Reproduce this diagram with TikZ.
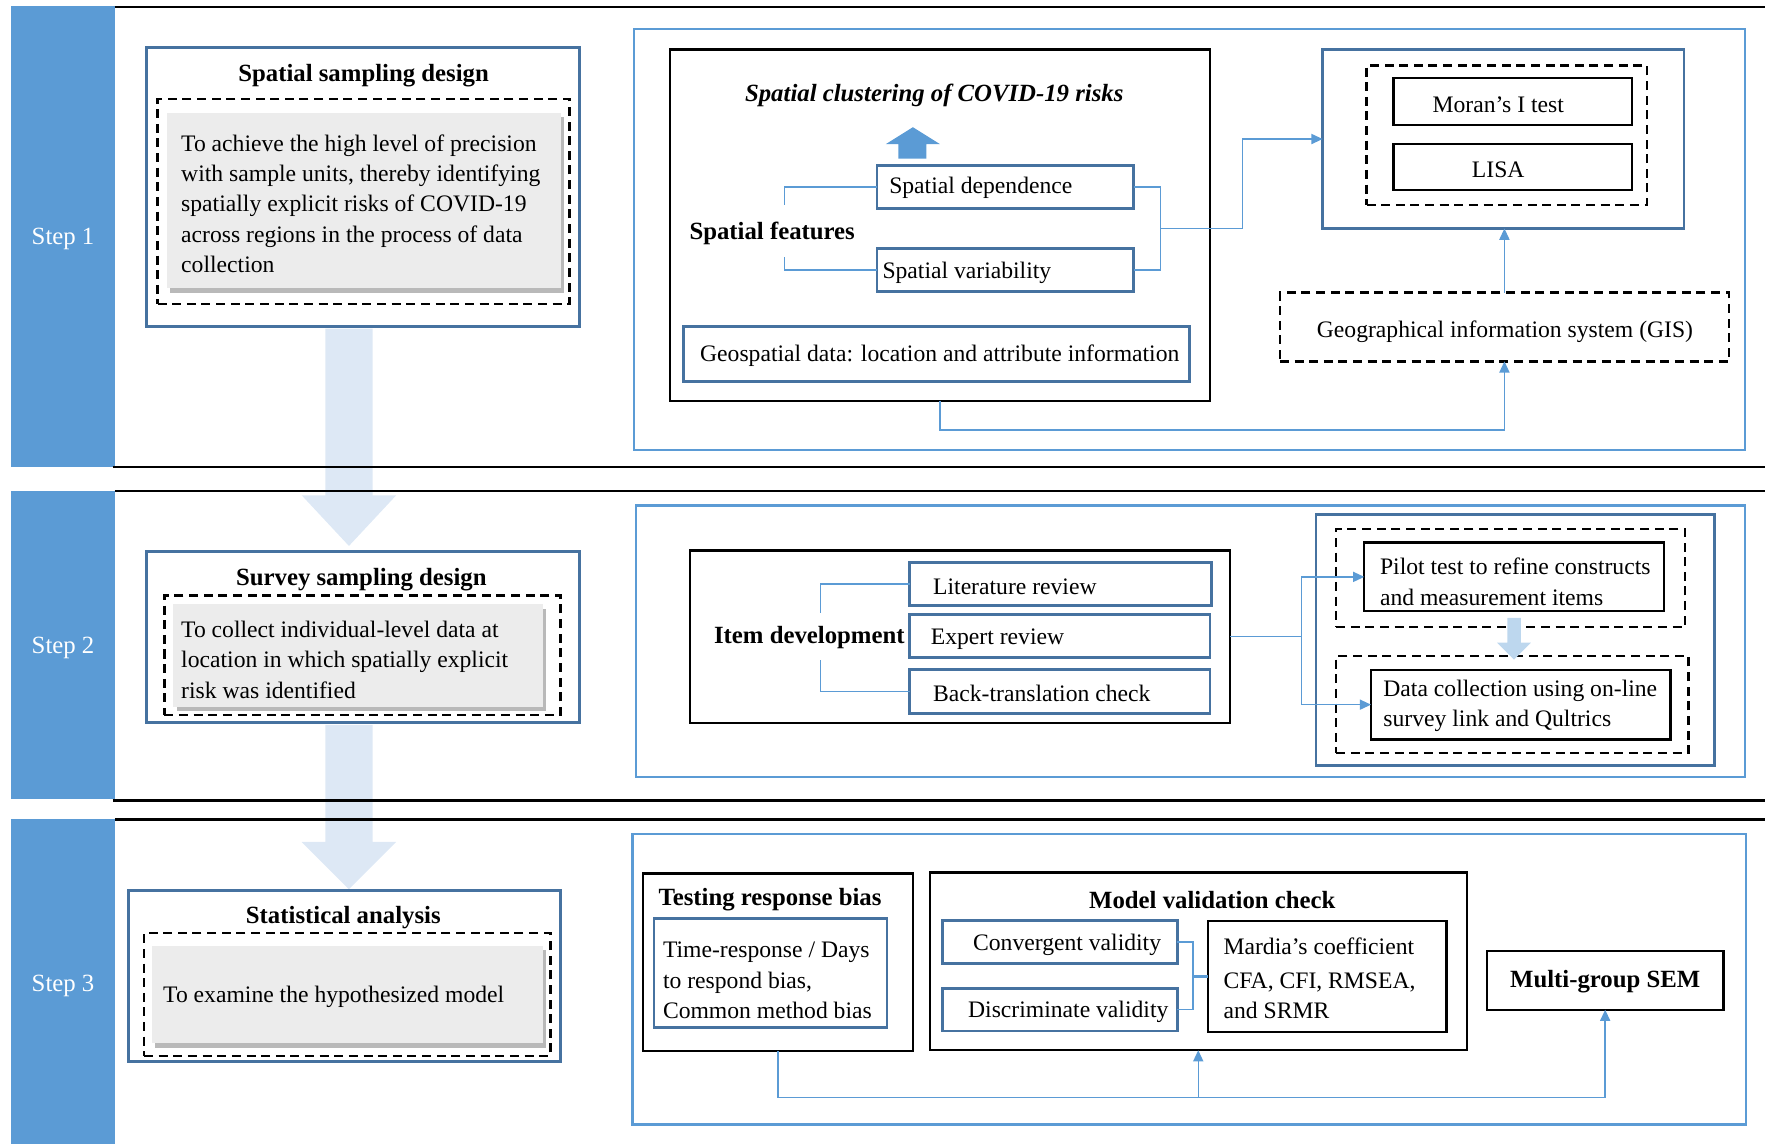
\documentclass[tikz,border=0pt]{standalone}
\usepackage{fontspec}
\setmainfont{Liberation Serif}
\usetikzlibrary{arrows.meta,shadows}
\definecolor{stepblue}{RGB}{91,155,213}
\definecolor{boxblue}{RGB}{70,114,160}
\definecolor{lineblue}{RGB}{91,155,213}
\definecolor{paleblue}{RGB}{221,232,245}
\definecolor{midblue}{RGB}{189,215,238}
\definecolor{grayfill}{RGB}{236,236,236}
\newcommand\mkbox[7]{\node[#1,minimum width={(#5-#3)*1pt},minimum height={(#6-#4)*1pt}] (#2) at ({(#3+#5)/2},{(#4+#6)/2}) {#7};}
\begin{document}
\begin{tikzpicture}[x=1pt,y=-1pt,
 base/.style={inner sep=0pt,outer sep=0pt},
 blk/.style={base,draw=black,line width=2pt},
 bbx/.style={base,draw=boxblue,line width=2.4pt},
 obx/.style={base,draw=lineblue,line width=2pt},
 dsh/.style={base,draw=black,line width=2.2pt,dash pattern=on 8pt off 5pt},
 gbx/.style={base,fill=grayfill,drop shadow={shadow xshift=3pt,shadow yshift=-4pt,opacity=.5,fill=black!55}},
 stepbar/.style={base,fill=stepblue},
 steptxt/.style={base,text=white,font=\fontsize{22}{27}\selectfont},
 txt/.style={base,font=\fontsize{21}{27}\selectfont,align=left,yshift=-2pt},
 ttl/.style={base,font=\fontsize{22}{27}\selectfont\bfseries,yshift=-2pt},
 conn/.style={draw=lineblue,line width=1.3pt},
 arr/.style={conn,-{Triangle[length=10pt,width=9pt]}},
 sepline/.style={line width=2.2pt}]
\useasboundingbox (0,0) rectangle (1568,1016);
% broad step arrows
\fill[paleblue] (289,292) -- (331,292) -- (331,440) -- (352,440) -- (310,485) -- (268,440) -- (289,440) -- cycle;
\fill[paleblue] (289,644) -- (331,644) -- (331,748) -- (352,748) -- (310,790) -- (268,748) -- (289,748) -- cycle;
% step bars
\mkbox{stepbar}{s1}{10}{5}{102}{415}{}
\mkbox{stepbar}{s2}{10}{436}{102}{710}{}
\mkbox{stepbar}{s3}{10}{728}{102}{1016}{}
\node[steptxt] (s1t) at (56,212) {Step 1};
\node[steptxt] (s2t) at (56,576) {Step 2};
\node[steptxt] (s3t) at (56,876) {Step 3};
\draw[sepline] (102,6) -- (1568,6);
\draw[sepline] (100,415) -- (1568,415);
\draw[sepline] (102,436) -- (1568,436);
\draw[sepline] (100,711) -- (1568,711);
\draw[sepline] (102,728) -- (1568,728);
% ---------------- Step 1
\mkbox{bbx}{ssd}{130}{42}{515}{290}{}
\node[ttl] (ssdt) at (323,65) {Spatial sampling design};
\mkbox{dsh}{ssdd}{140}{88}{506}{270}{}
\mkbox{gbx}{ssdg}{148}{100}{498}{256}{}
\node[txt,anchor=west] (ssdx) at (161,179) {To achieve the high level of precision\\with sample units, thereby identifying\\spatially explicit risks of COVID-19\\across regions in the process of data\\collection};
\mkbox{obx}{r1}{563}{26}{1550}{400}{}
\mkbox{blk}{bb}{595}{44}{1075}{356}{}
\node[ttl,font=\fontsize{22}{27}\selectfont\bfseries\itshape] (sc) at (830,83) {Spatial clustering of COVID-19 risks};
\fill[stepblue] (798,141) -- (823,141) -- (823,128) -- (835,128) -- (811,113) -- (787,128) -- (798,128) -- cycle;
\mkbox{bbx}{sd}{779}{147}{1007}{185}{}
\node[txt,anchor=west] (sdt) at (790,165) {Spatial dependence};
\mkbox{bbx}{sv}{779}{221}{1007}{259}{}
\node[txt,anchor=west] (svt) at (784,240) {Spatial variability};
\node[ttl] (sf) at (686,205) {Spatial features};
\mkbox{bbx}{geo}{607}{290}{1057}{339}{}
\node[txt,anchor=west] (geot) at (622,314) {Geospatial data: location and attribute information};
\mkbox{bbx}{mo}{1175}{44}{1496}{203}{}
\mkbox{dsh}{mod}{1214}{58}{1463}{182}{}
\mkbox{blk}{mi}{1238}{69}{1450}{111}{}
\node[txt] (mit) at (1331,91) {Moran’s I test};
\mkbox{blk}{li}{1238}{128}{1450}{169}{}
\node[txt] (lit1) at (1331,149) {LISA};
\mkbox{dsh}{gis}{1137}{260}{1536}{321}{}
\node[txt] (gist) at (1337,293) {Geographical information system (GIS)};
\coordinate (sfa) at (697,182);
\coordinate (sfb) at (697,228);
\coordinate (brA) at (1031,166);
\coordinate (brB) at (1031,240);
\coordinate (brJ) at (1031,203);
\draw[conn] (sd.west) -| (sfa);
\draw[conn] (sv.west) -| (sfb);
\draw[conn] (sd.east) -- (brA) -- (brB) -- (sv.east);
\draw[arr] (brJ) -- (1104,203) |- (mo.west);
\draw[arr] (gis.north) -- (gis.north |- mo.south);
\draw[arr] (bb.south) -- ++(0,26) -| (gis.south);
% ---------------- Step 2
\mkbox{bbx}{ssv}{130}{490}{515}{642}{}
\node[ttl] (ssvt) at (321,513) {Survey sampling design};
\mkbox{dsh}{ssvd}{146}{529}{498}{635}{}
\mkbox{gbx}{ssvg}{154}{537}{482}{628}{}
\node[txt,anchor=west] (ssvx) at (161,584) {To collect individual-level data at\\location in which spatially explicit\\risk was identified};
\mkbox{obx}{r2}{565}{449}{1550}{690}{}
\mkbox{blk}{item}{613}{489}{1093}{642}{}
\node[ttl] (itt) at (719,564) {Item development};
\mkbox{bbx}{lit}{808}{500}{1076}{538}{}
\node[txt,anchor=west] (litt) at (829,519) {Literature review};
\mkbox{bbx}{exp}{808}{546}{1075}{584}{}
\node[txt,anchor=west] (expt) at (827,566) {Expert review};
\mkbox{bbx}{bt}{808}{595}{1075}{634}{}
\node[txt,anchor=west] (btt) at (829,614) {Back-translation check};
\coordinate (ida) at (729,545);
\coordinate (idb) at (729,586);
\draw[conn] (lit.west) -| (ida);
\draw[conn] (bt.west) -| (idb);
\mkbox{bbx}{pb}{1169}{457}{1523}{680}{}
\mkbox{dsh}{pd1}{1187}{470}{1497}{557}{}
\mkbox{blk}{pilot}{1212}{482}{1478}{543}{}
\node[txt,anchor=west] (pilott) at (1226,515) {Pilot test to refine constructs\\and measurement items};
\mkbox{dsh}{pd2}{1187}{583}{1500}{669}{}
\mkbox{blk}{data}{1218}{595}{1484}{657}{}
\node[txt,anchor=west] (datat) at (1229,625) {Data collection using on-line\\survey link and Qultrics};
\fill[midblue] (1339,549) -- (1351,549) -- (1351,571) -- (1360,571) -- (1345,586) -- (1330,571) -- (1339,571) -- cycle;
\coordinate (j2) at (1156,565.5);
\draw[conn] (item.east) -- (j2);
\draw[arr] (j2) |- (pilot.west);
\draw[arr] (j2) |- (data.west);
% ---------------- Step 3
\mkbox{bbx}{sa}{114}{791}{498}{943}{}
\node[ttl] (sat) at (305,813) {Statistical analysis};
\mkbox{dsh}{sad}{128}{829}{489}{938}{}
\mkbox{gbx}{sag}{135}{840}{482}{927}{}
\node[txt,anchor=west] (sax) at (145,884) {To examine the hypothesized model};
\mkbox{obx}{r3}{562}{741}{1551}{999}{}
\mkbox{blk}{trb}{571}{776}{811}{934}{}
\node[ttl,anchor=west] (trbt) at (585,797) {Testing response bias};
\mkbox{bbx}{trbi}{581}{816}{788}{913}{}
\node[txt,anchor=west] (trbx) at (589,869) {Time-response / Days\\to respond bias,\\Common method bias};
\mkbox{blk}{mvc}{826}{775}{1303}{933}{}
\node[ttl] (mvct) at (1077,798) {Model validation check};
\mkbox{bbx}{cv}{837}{818}{1046}{856}{}
\node[txt] (cvt) at (948,837) {Convergent validity};
\mkbox{bbx}{dv}{837}{878}{1046}{916}{}
\node[txt] (dvt) at (949,897) {Discriminate validity};
\mkbox{blk}{mar}{1073}{818}{1285}{917}{}
\node[txt,anchor=west] (mart) at (1087,867) {Mardia’s coefficient\\[3pt]CFA, CFI, RMSEA,\\and SRMR};
\mkbox{blk}{ms}{1321}{845}{1531}{897}{}
\node[ttl] (mst) at (1426,870) {Multi-group SEM};
\coordinate (vA) at (1060,837);
\coordinate (vB) at (1060,897);
\coordinate (vJ) at (1060,867.5);
\draw[conn] (cv.east) -- (vA) -- (vB) -- (dv.east);
\draw[conn,line width=2pt] (vJ) -- (mar.west);
\coordinate (bl) at (1064.5,975);
\draw[arr] (trb.south) -- ++(0,41) -| (ms.south);
\draw[arr] (bl) -- (mvc.south);
\end{tikzpicture}
\end{document}
